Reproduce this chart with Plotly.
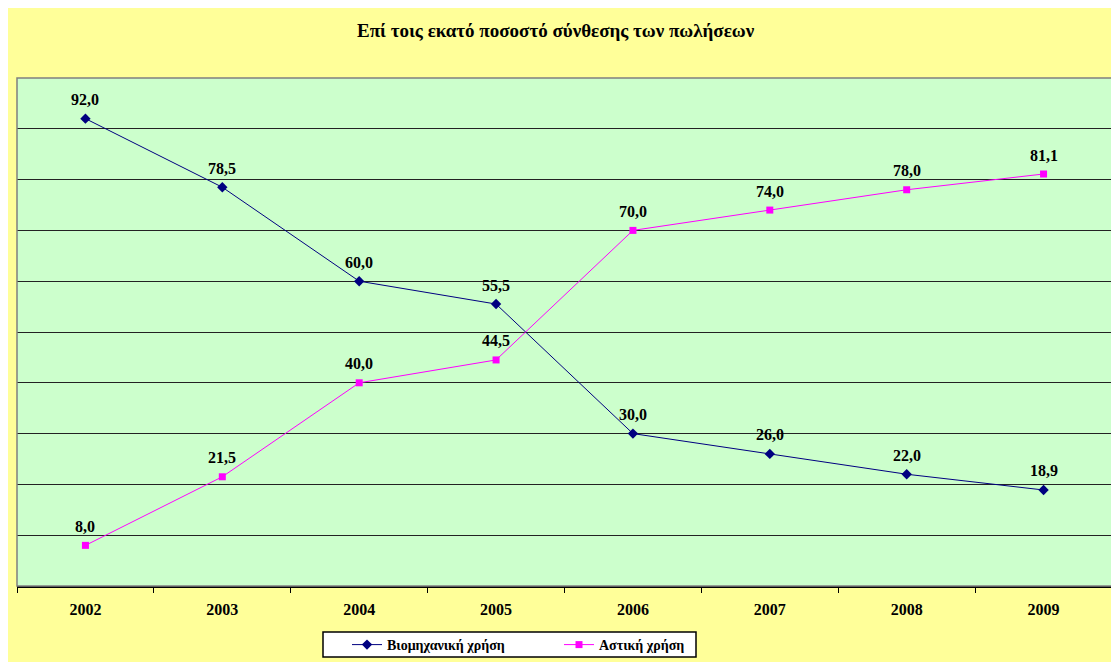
import plotly.graph_objects as go

years = ["2002", "2003", "2004", "2005", "2006", "2007", "2008", "2009"]
industrial = [92.0, 78.5, 60.0, 55.5, 30.0, 26.0, 22.0, 18.9]
urban = [8.0, 21.5, 40.0, 44.5, 70.0, 74.0, 78.0, 81.1]
series_names = ["Βιομηχανική χρήση", "Αστική χρήση"]
title_text = "Επί τοις εκατό ποσοστό σύνθεσης των πωλήσεων"

OFF = 8  # page body margin
W, H = 1119 - OFF, 662 - OFF
L, R, T, B = 17 - OFF, 7, 78 - OFF, 76
pw, ph = W - L - R, H - T - B

def px(xw):
    return (xw - OFF - L) / pw

def py(yw):
    return (H - B - (yw - OFF)) / ph

FONT = "Liberation Serif, Times New Roman, serif"

fig = go.Figure()
fig.add_trace(go.Scatter(
    x=years, y=industrial, name=f"<b>{series_names[0]}</b>", mode="lines+markers",
    line=dict(color="#000080", width=1),
    marker=dict(symbol="diamond", size=8, color="#000080"),
))
fig.add_trace(go.Scatter(
    x=years, y=urban, name=f"<b>{series_names[1]}</b>", mode="lines+markers",
    line=dict(color="#FF00FF", width=1),
    marker=dict(symbol="square", size=7, color="#FF00FF"),
))

annotations = []
for series in (industrial, urban):
    for i, v in enumerate(series):
        annotations.append(dict(
            x=i, y=v, xref="x", yref="y", text=f"<b>{v:.1f}</b>".replace(".", ","),
            showarrow=False, yshift=19, font=dict(family=FONT, size=16, color="black"),
        ))
annotations.append(dict(
    x=px(556), y=py(31), xref="paper", yref="paper", text=f"<b>{title_text}</b>",
    showarrow=False, font=dict(family=FONT, size=19, color="black"),
    xanchor="center", yanchor="middle",
))

shapes = [
    dict(type="rect", xref="paper", yref="paper", x0=px(6), x1=px(1125), y0=py(670), y1=py(7),
         fillcolor="#FFFF99", line=dict(width=0), layer="below"),
    dict(type="rect", xref="paper", yref="paper", x0=0, x1=1, y0=0, y1=1,
         fillcolor="#CCFFCC", line=dict(width=0), layer="below"),
    # legend box
    dict(type="rect", xref="paper", yref="paper", x0=px(323), x1=px(696), y0=py(657), y1=py(632),
         fillcolor="white", line=dict(color="black", width=1.5), layer="below"),
    dict(type="rect", xref="paper", yref="paper", x0=0, x1=1, y0=0, y1=1,
         line=dict(color="#808080", width=1.5), fillcolor="rgba(0,0,0,0)", layer="above"),
]

fig.update_layout(
    width=W, height=H,
    margin=dict(l=L, r=R, t=T, b=B, pad=0, autoexpand=False),
    paper_bgcolor="white",
    plot_bgcolor="#CCFFCC",
    font=dict(family=FONT, color="black"),
    showlegend=True,
    legend=dict(
        orientation="h", x=px(347), y=py(645), xanchor="left", yanchor="middle",
        bgcolor="rgba(0,0,0,0)", borderwidth=0,
        font=dict(family=FONT, size=14, color="black"),
        entrywidth=167, entrywidthmode="pixels",
    ),
    annotations=annotations,
    shapes=shapes,
)
fig.update_xaxes(
    type="category", showgrid=False, showline=True, linecolor="black", linewidth=1.5,
    ticks="outside", tickson="boundaries", ticklen=5, tickcolor="black",
    tickfont=dict(family=FONT, size=16, color="black"),
    tickprefix="<b>", ticksuffix="</b>", ticklabelstandoff=8,
    range=[-0.5, 7.5], fixedrange=True,
)
fig.update_yaxes(
    range=[0, 100], dtick=10, showticklabels=False, showgrid=True, gridcolor="#222222",
    gridwidth=1, zeroline=False, showline=False, fixedrange=True,
)

fig.write_html("out.html")
